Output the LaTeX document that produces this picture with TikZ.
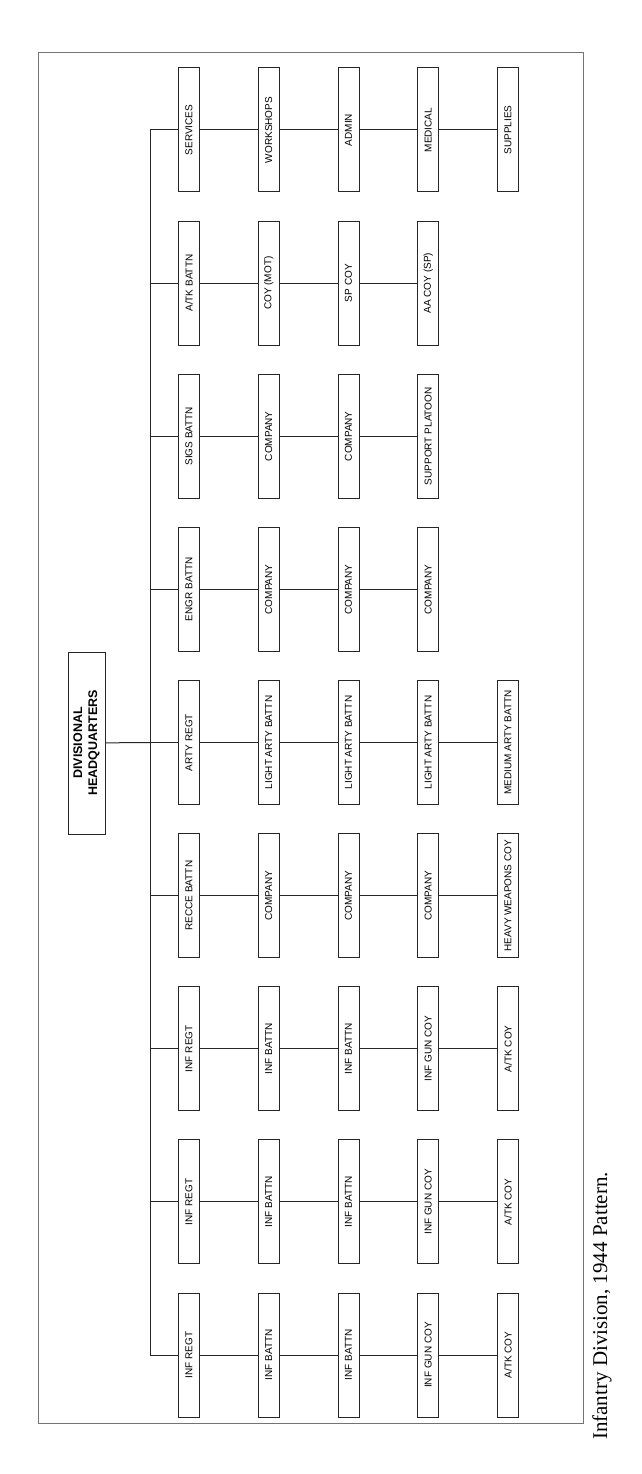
\documentclass[tikz,border=0pt]{standalone}
\usepackage{fontspec}
\setmainfont{Liberation Sans}
\newfontfamily\capfont{Liberation Serif}
\begin{document}
\begin{tikzpicture}[x=1pt,y=-1pt,
  unit/.style={draw=black!85, line width=1pt, rotate=90, minimum width=124pt, minimum height=21pt, inner sep=0pt, font=\fontsize{10}{11}\selectfont},
  hqbox/.style={draw=black!85, line width=1pt, rotate=90, minimum width=182pt, minimum height=37pt, inner sep=0pt, align=center, font=\bfseries\fontsize{12.5}{15}\selectfont},
  link/.style={draw=black!85, line width=1pt},
  frame/.style={draw=black!55, line width=1pt}]
\fill[white] (0,0) rectangle (641,1474);
\useasboundingbox (0,0) rectangle (641,1474);
\draw[frame] (38,53) rectangle (583,1423);
\foreach \g/\list in {
  1/{SERVICES,WORKSHOPS,ADMIN,MEDICAL,SUPPLIES},
  2/{A/TK BATTN,COY (MOT),SP COY,AA COY (SP)},
  3/{SIGS BATTN,COMPANY,COMPANY,SUPPORT PLATOON},
  4/{ENGR BATTN,COMPANY,COMPANY,COMPANY},
  5/{ARTY REGT,LIGHT ARTY BATTN,LIGHT ARTY BATTN,LIGHT ARTY BATTN,MEDIUM ARTY BATTN},
  6/{RECCE BATTN,COMPANY,COMPANY,COMPANY,HEAVY WEAPONS COY},
  7/{INF REGT,INF BATTN,INF BATTN,INF GUN COY,A/TK COY},
  8/{INF REGT,INF BATTN,INF BATTN,INF GUN COY,A/TK COY},
  9/{INF REGT,INF BATTN,INF BATTN,INF GUN COY,A/TK COY}} {
  \coordinate (b\g) at (150,{130+153.125*(\g-1)});
  \foreach \t [count=\c, remember=\c as \p (initially 0)] in \list {
    \node[unit] (g\g c\c) at ({189+79.75*(\c-1)},{130+153.125*(\g-1)}) {\t};
    \ifnum\c>1 \draw[link] (g\g c\p) -- (g\g c\c); \fi
  }
  \draw[link] (b\g) -- (g\g c1);
}
\draw[link] (b1) -- (b9);
\node[hqbox] (hq) at (86.5,743) {DIVISIONAL\\HEADQUARTERS};
\draw[link] (hq) -- (b5);
\node[rotate=90, anchor=base west, inner sep=0pt, font=\capfont\fontsize{21}{25}\selectfont] (cap) at (607,1440) {Infantry Division, 1944 Pattern.};
\end{tikzpicture}
\end{document}
